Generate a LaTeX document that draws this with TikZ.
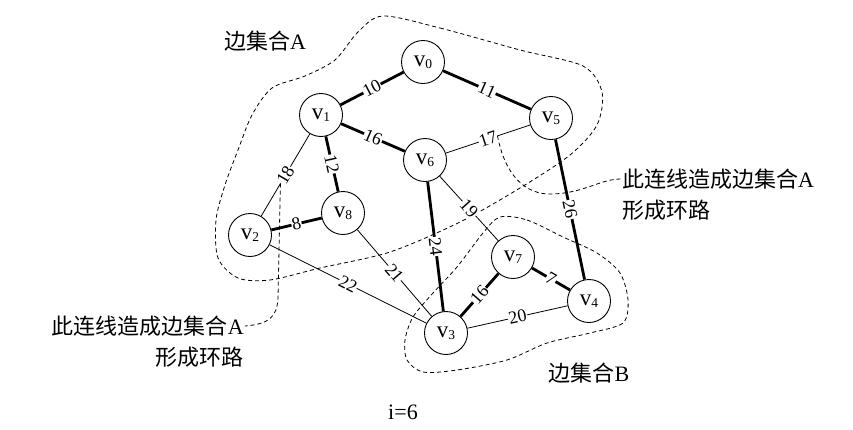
\documentclass[tikz,border=0pt]{standalone}
\usepackage{fontspec}
\setmainfont{Liberation Serif}
\newfontfamily\cjk{Noto Sans CJK SC}
\usetikzlibrary{positioning}
\newcommand{\vsub}[1]{v\raisebox{-2pt}{\fontsize{13.5}{14}\selectfont #1}}

\begin{document}
\begin{tikzpicture}[x=1pt, y=-1pt,
  vtx/.style={circle, draw, line width=0.9pt, minimum size=43pt, inner sep=0pt,
              font=\fontsize{23}{26}\selectfont},
  link/.style={line width=0.8pt},
  tree/.style={line width=2.8pt},
  w/.style={sloped, fill=white, inner sep=0.6pt, font=\fontsize{18}{18}\selectfont},
  bound/.style={line width=0.8pt, dash pattern=on 4pt off 3pt},
  txt/.style={inner sep=1pt, font=\fontsize{22}{30}\selectfont}]
  \useasboundingbox (0,0) rectangle (853,429);
  \draw[bound] plot[smooth cycle] coordinates {(383,16) (440,28) (520,50) (583,66)
    (602,92) (597,125) (570,155) (520,188) (460,222) (390,252) (320,268) (270,280)
    (238,278) (218,258) (216,220) (225,185) (238,150) (252,115) (272,88) (305,76)
    (335,60) (358,32)};
  \draw[bound] plot[smooth cycle] coordinates {(500,217) (527,220) (563,237) (597,253)
    (620,273) (628,300) (623,323) (590,333) (547,343) (507,360) (457,370) (423,372)
    (407,360) (405,340) (413,317) (433,293) (457,267) (483,233)};

  \node[vtx] (v0) at (423,62) {\vsub{0}};
  \node[vtx] (v1) at (321,115) {\vsub{1}};
  \node[vtx] (v5) at (551,118) {\vsub{5}};
  \node[vtx] (v6) at (425,160) {\vsub{6}};
  \node[vtx] (v8) at (343,213) {\vsub{8}};
  \node[vtx] (v2) at (250,235) {\vsub{2}};
  \node[vtx] (v7) at (513,257) {\vsub{7}};
  \node[vtx] (v4) at (589,301) {\vsub{4}};
  \node[vtx] (v3) at (446,333) {\vsub{3}};

  \draw[tree] (v1) -- node[w] {10} (v0);
  \draw[tree] (v0) -- node[w] {11} (v5);
  \draw[tree] (v1) -- node[w] {16} (v6);
  \draw[tree] (v1) -- node[w] {12} (v8);
  \draw[link] (v1) -- node[w] (l18) {18} (v2);
  \draw[link] (v6) -- node[w] (l17) {17} (v5);
  \draw[tree] (v5) -- node[w] {26} (v4);
  \draw[tree] (v6) -- node[w] {24} (v3);
  \draw[link] (v6) -- node[w] {19} (v7);
  \draw[tree] (v2) -- node[w] {8} (v8);
  \draw[link] (v8) -- node[w] {21} (v3);
  \draw[link] (v2) -- node[w] {22} (v3);
  \draw[tree] (v3) -- node[w] {16} (v7);
  \draw[tree] (v7) -- node[w] {7} (v4);
  \draw[link] (v3) -- node[w] {20} (v4);

  \node[txt] (setA) at (265,41) {{\cjk 边集合}A};
  \node[txt] (setB) at (589,373) {{\cjk 边集合}B};
  \node[txt] (step) at (403,412) {i=6};
  \node[txt, anchor=east] (c1) at (245,326) {{\cjk 此连线造成边集合}A};
  \node[txt, below=8pt of c1.south east, anchor=north east] (c1b) {\cjk 形成环路};
  \node[txt, anchor=west] (c2) at (621,179) {{\cjk 此连线造成边集合}A};
  \node[txt, below=8pt of c2.south west, anchor=north west] (c2b) {\cjk 形成环路};

  \draw[bound] (l18.west) -- (278,298) .. controls (277,318) and (268,324) .. (c1.east);
  \draw[bound] (l17.east) .. controls (505,175) and (525,195) .. (552,194)
    .. controls (585,193) and (600,179) .. (c2.west);
\end{tikzpicture}
\end{document}
